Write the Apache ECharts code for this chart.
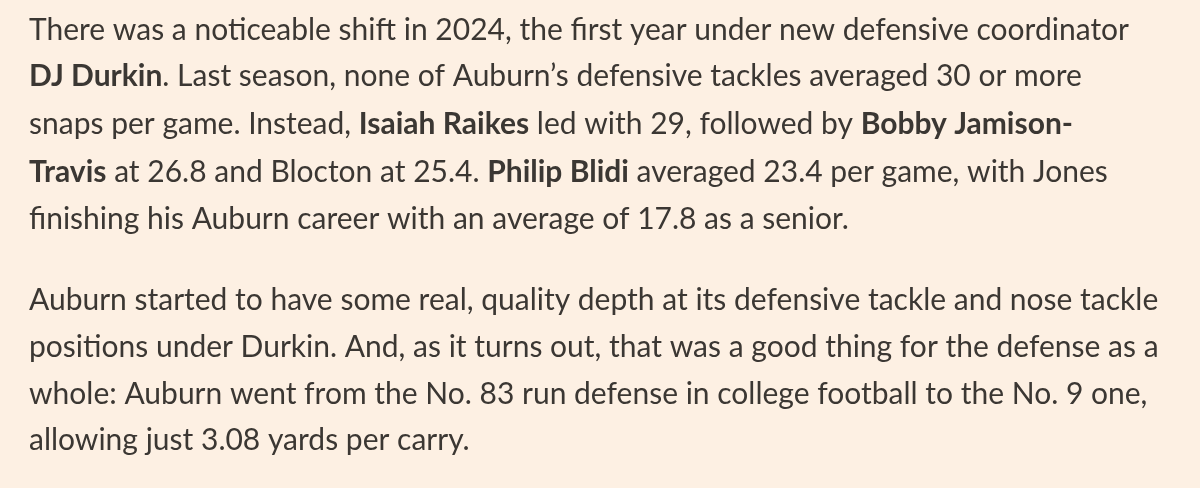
<!DOCTYPE html>
<html><head><meta charset="utf-8">
<script src="https://cdn.jsdelivr.net/npm/echarts@6/dist/echarts.min.js"></script>
<style>html,body{margin:0;padding:0;background:#fdf0e3}#c{width:1200px;height:488px}</style>
</head><body><div id="c"></div>
<script>
// Each line: list of [text, isBold]
const paragraph1 = [
  [["There was a noticeable shift in 2024, the first year under new defensive coordinator", false]],
  [["DJ Durkin", true], [". Last season, none of Auburn\u2019s defensive tackles averaged 30 or more", false]],
  [["snaps per game. Instead, ", false], ["Isaiah Raikes", true], [" led with 29, followed by ", false], ["Bobby Jamison-", true]],
  [["Travis", true], [" at 26.8 and Blocton at 25.4. ", false], ["Philip Blidi", true], [" averaged 23.4 per game, with Jones", false]],
  [["finishing his Auburn career with an average of 17.8 as a senior.", false]]
];
const paragraph2 = [
  [["Auburn started to have some real, quality depth at its defensive tackle and nose tackle", false]],
  [["positions under Durkin. And, as it turns out, that was a good thing for the defense as a", false]],
  [["whole: Auburn went from the No. 83 run defense in college football to the No. 9 one,", false]],
  [["allowing just 3.08 yards per carry.", false]]
];
const lineCenters = [33, 79, 127, 175, 222];
const lineCenters2 = [303, 350, 397, 443];

const FONT = 'Lato, "Noto Sans", sans-serif';
const SIZE = 30;
function lineEl(segs, y) {
  const text = segs.map(s => '{' + (s[1] ? 'b' : 'n') + '|' + s[0] + '}').join('');
  return {
    type: 'text', left: 29, top: y - 18,
    style: {
      text: text, fill: '#3b3733', font: SIZE + 'px ' + FONT,
      rich: {
        n: {fontSize: SIZE, fontFamily: FONT, fontWeight: 'normal', fill: '#3b3733'},
        b: {fontSize: SIZE, fontFamily: FONT, fontWeight: 'bold', fill: '#3b3733'}
      }
    }
  };
}
const els = [];
paragraph1.forEach((l, i) => els.push(lineEl(l, lineCenters[i])));
paragraph2.forEach((l, i) => els.push(lineEl(l, lineCenters2[i])));
const chart = echarts.init(document.getElementById('c'));
chart.setOption({backgroundColor: '#fdf0e3', graphic: els});
</script></body></html>
